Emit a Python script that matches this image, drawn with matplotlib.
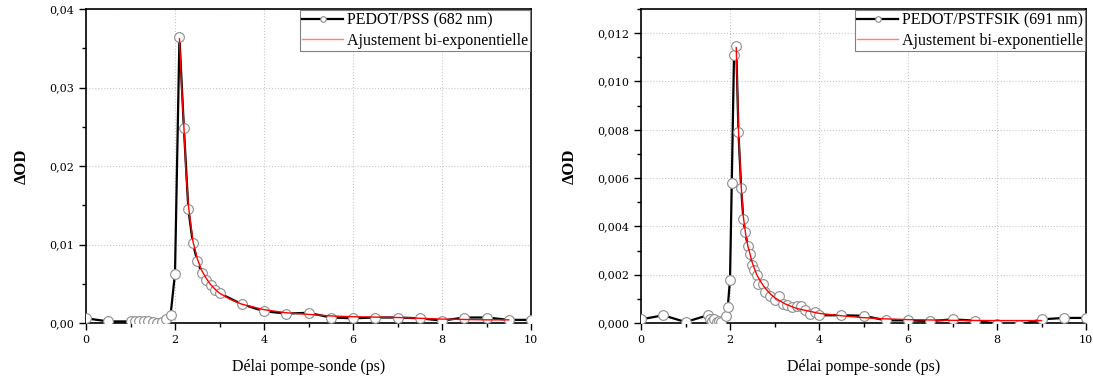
import numpy as np
import matplotlib
matplotlib.use("Agg")
import matplotlib.pyplot as plt
from matplotlib.ticker import MultipleLocator, FuncFormatter

# DATA

# PEDOT/PSS (682 nm)
pss_t = [0.0, 0.5, 1.0, 1.1, 1.2, 1.3, 1.4, 1.5, 1.6, 1.7, 1.8, 1.9, 2.0, 2.1,
         2.2, 2.3, 2.4, 2.5, 2.6, 2.7, 2.8, 2.9, 3.0, 3.5, 4.0, 4.5, 5.0, 5.5,
         6.0, 6.5, 7.0, 7.5, 8.0, 8.5, 9.0, 9.5, 10.0]
pss_od = [0.0006, 0.0002, 0.0002, 0.0003, 0.0003, 0.0003, 0.0002, 0.0001, 0.0000,
          0.0001, 0.0005, 0.0010, 0.0063, 0.0364, 0.0248, 0.0145, 0.0102, 0.0079,
          0.0064, 0.0055, 0.0048, 0.0042, 0.0038, 0.0024, 0.0015, 0.0012, 0.0013,
          0.0007, 0.0006, 0.0007, 0.0007, 0.0006, 0.0003, 0.0007, 0.0007, 0.0004,
          0.0004]
pss_fit_t = [2.1, 2.15, 2.2, 2.25, 2.3, 2.4, 2.5, 2.6, 2.7, 2.8, 2.9, 3.0, 3.25, 3.5,
             4.0, 4.5, 5.0, 5.5, 6.0, 7.0, 8.0, 9.0, 9.5]
pss_fit_od = [0.0362, 0.0300, 0.0250, 0.0190, 0.0150, 0.0105, 0.0082, 0.0067, 0.0057,
              0.0049, 0.0043, 0.0038, 0.0030, 0.0024, 0.0017, 0.0013, 0.0011, 0.0009,
              0.0008, 0.0007, 0.0005, 0.0004, 0.0004]

# PEDOT/PSTFSIK (691 nm)
tfsi_t = [0.0, 0.5, 1.0, 1.5, 1.55, 1.6, 1.65, 1.7, 1.75, 1.8, 1.9, 1.95, 2.0, 2.04,
          2.09, 2.14, 2.19, 2.25, 2.3, 2.34, 2.4, 2.45, 2.49, 2.55, 2.6, 2.64, 2.75,
          2.79, 2.9, 3.0, 3.09, 3.2, 3.29, 3.39, 3.5, 3.6, 3.69, 3.8, 3.9, 4.0, 4.5,
          5.0, 5.5, 6.0, 6.5, 7.0, 7.5, 8.0, 8.5, 9.0, 9.5, 10.0]
tfsi_od = [0.00015, 0.00032, 0.00004, 0.00032, 0.00018, 0.00008, 0.00016, 0.00004,
           0.00010, 0.00004, 0.00028, 0.00066, 0.00180, 0.00580, 0.01110, 0.01148,
           0.00790, 0.00560, 0.00430, 0.00376, 0.00320, 0.00284, 0.00241, 0.00220,
           0.00197, 0.00163, 0.00163, 0.00128, 0.00110, 0.00094, 0.00110, 0.00080,
           0.00076, 0.00066, 0.00069, 0.00069, 0.00052, 0.00039, 0.00045, 0.00032,
           0.00032, 0.00030, 0.00011, 0.00011, 0.00008, 0.00015, 0.00010, -0.00003,
           -0.00008, 0.00015, 0.00021, 0.00021]
tfsi_fit_t = [2.14, 2.19, 2.25, 2.3, 2.35, 2.4, 2.5, 2.6, 2.7, 2.8, 2.9, 3.0, 3.25,
              3.5, 4.0, 4.5, 5.0, 5.5, 6.0, 7.0, 8.0, 9.0]
tfsi_fit_od = [0.01140, 0.00800, 0.00570, 0.00440, 0.00370, 0.00320, 0.00250, 0.00200,
               0.00168, 0.00142, 0.00122, 0.00105, 0.00078, 0.00060, 0.00040, 0.00030,
               0.00022, 0.00017, 0.00014, 0.00011, 0.00010, 0.00010]

panels = [
    (pss_t, pss_od, pss_fit_t, pss_fit_od, "PEDOT/PSS (682 nm)", 0.04, 0.01, 0.005, 2),
    (tfsi_t, tfsi_od, tfsi_fit_t, tfsi_fit_od, "PEDOT/PSTFSIK (691 nm)", 0.013, 0.002, 0.001, 3),
]

axes_left = [86 / 1093, 641 / 1093]
ax_w = 445 / 1093


def comma_fmt(ndig):
    return FuncFormatter(lambda v, pos: (("%." + str(ndig) + "f") % v).replace(".", ","))


fig = plt.figure(figsize=(10.93, 3.81), dpi=100)

for (t, od, ft, fod, name, ymax, ymaj, ymin, ndig), left in zip(panels, axes_left):
    ax = fig.add_axes([left, 58 / 381, ax_w, 314 / 381])
    ax.plot(t, od, color="black", lw=1.6, marker="o", ms=7, mfc="white",
            mec="#8c8c8c", mew=0.8, label=name, zorder=3)
    ax.plot(ft, fod, color="red", lw=1.0, label="Ajustement bi-exponentielle", zorder=4)

    ax.set_xlim(0, 10)
    ax.set_ylim(0, ymax)
    ax.xaxis.set_major_locator(MultipleLocator(2))
    ax.xaxis.set_minor_locator(MultipleLocator(1))
    ax.yaxis.set_major_locator(MultipleLocator(ymaj))
    ax.yaxis.set_minor_locator(MultipleLocator(ymin))
    ax.xaxis.set_major_formatter(FuncFormatter(lambda v, pos: "%d" % v))
    ax.yaxis.set_major_formatter(comma_fmt(ndig))
    ax.tick_params(which="both", direction="out", top=False, right=False,
                   labelsize=8, width=1.0)
    ax.tick_params(which="major", length=5)
    ax.tick_params(which="minor", length=3)
    for lab in ax.get_xticklabels() + ax.get_yticklabels():
        lab.set_family("DejaVu Serif")
    ax.grid(True, which="major", ls=":", color="#c8c8c8", lw=0.8)
    for sp in ax.spines.values():
        sp.set_linewidth(1.2)

    ax.set_xlabel("Délai pompe-sonde (ps)", family="Liberation Serif", fontsize=11.5,
                  labelpad=10)
    ax.set_ylabel("ΔOD", family="Liberation Serif", fontsize=12, fontweight="bold",
                  labelpad=14)

    leg = ax.legend(loc="upper right", prop={"family": "Liberation Serif", "size": 11.5},
                    fancybox=False, edgecolor="#808080", framealpha=1,
                    borderpad=0.15, labelspacing=0.3, handlelength=2.6,
                    handletextpad=0.2, borderaxespad=0.05)
    leg.get_frame().set_linewidth(0.8)
    leg.legend_handles[0].set_markersize(4)
    leg.legend_handles[1].set_alpha(0.5)

fig.savefig("out.png", dpi=100)
